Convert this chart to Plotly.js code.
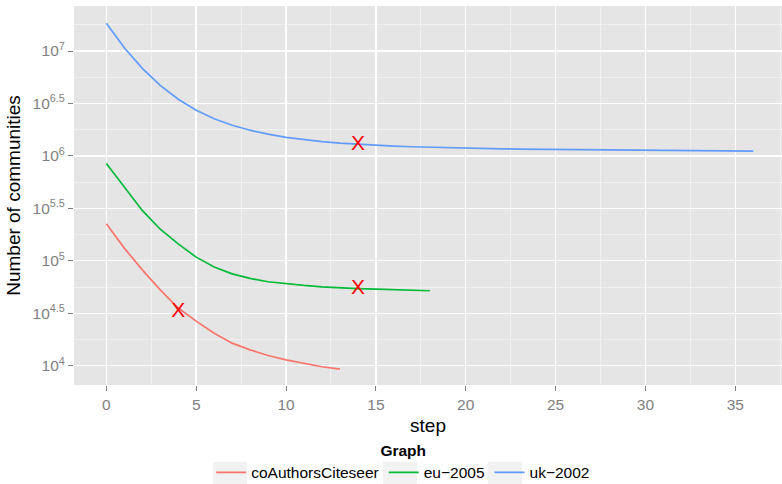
<!DOCTYPE html>
<html>
<head>
<meta charset="utf-8">
<script src="https://cdn.plot.ly/plotly-3.0.1.min.js"></script>
<style>html,body{margin:0;padding:0;background:#fff;}#chart{width:782px;height:484px;}</style>
</head>
<body>
<div id="chart"></div>
<script>
// ---- data ----
const seriesNames = ["coAuthorsCiteseer", "eu\u22122005", "uk\u22122002"];
const stepsCo = [0,1,2,3,4,5,6,7,8,9,10,11,12,13];
const valuesCo = [225400,132100,82000,52800,35500,26600,20400,16400,14160,12500,11350,10540,9770,9290];
const stepsEu = [0,1,2,3,4,5,6,7,8,9,10,11,12,13,14,15,16,17,18];
const valuesEu = [845000,501000,302000,200000,145000,108400,87100,75000,67900,63100,60300,58200,56500,55200,54300,53600,52800,52200,51800];
const stepsUk = [0,1,2,3,4,5,6,7,8,9,10,11,12,13,14,15,16,17,18,19,20,21,22,23,24,25,26,27,28,29,30,31,32,33,34,35,36];
const valuesUk = [18370000,10720000,6840000,4700000,3470000,2720000,2260000,1960000,1758000,1611000,1503000,1426000,1368000,1324000,1288000,1259000,1239000,1222000,1208000,1194000,1183000,1175000,1167000,1161000,1156000,1151000,1146000,1140000,1138000,1132000,1130000,1127000,1122000,1119000,1117000,1114000,1112000];
const markSteps = [4, 14, 14];
const markValues = [32700, 54300, 1268000];
const markLabel = "X";
const xTickVals = [0,5,10,15,20,25,30,35];
const yTickExps = [4, 4.5, 5, 5.5, 6, 6.5, 7];
const yTickLabels = ["10<sup>4</sup>","10<sup>4.5</sup>","10<sup>5</sup>","10<sup>5.5</sup>","10<sup>6</sup>","10<sup>6.5</sup>","10<sup>7</sup>"];
const xTitle = "step";
const yTitle = "Number of communities";
const legendTitle = "Graph";

// ---- style ----
const colors = ["#F8766D", "#00BA38", "#619CFF"];
const FONT = "Liberation Sans, Arial, Helvetica, sans-serif";
const W = 782, H = 484, ML = 74, MR = 0, MT = 6, MB = 99;
const PW = W - ML - MR, PH = H - MT - MB;

const traces = [
  {x: stepsCo, y: valuesCo, name: seriesNames[0]},
  {x: stepsEu, y: valuesEu, name: seriesNames[1]},
  {x: stepsUk, y: valuesUk, name: seriesNames[2]}
].map((t, i) => Object.assign(t, {
  type: "scatter", mode: "lines",
  line: {color: colors[i], width: 1.7}
}));

traces.push({
  type: "scatter", mode: "text",
  x: markSteps, y: markValues,
  text: markSteps.map(() => markLabel),
  textposition: "middle center",
  textfont: {family: FONT, size: 21, color: "#FF0000"},
  showlegend: false, hoverinfo: "skip"
});

const yMinorVals = [];
for (let e = 3.75; e <= 7.5; e += 0.5) yMinorVals.push(Math.pow(10, e));

// grey legend key boxes (pixel spans converted to paper coords)
const keyBoxesPx = [[213, 247], [383, 417], [488, 522]];
const shapes = keyBoxesPx.map(([a, b]) => ({
  type: "rect", xref: "paper", yref: "paper", layer: "below",
  x0: (a - ML) / PW, x1: (b - ML) / PW,
  y0: (H - MB - 490) / PH, y1: (H - MB - 462) / PH,
  fillcolor: "#F2F2F2", line: {width: 0}
}));

const layout = {
  width: W, height: H,
  margin: {l: ML, r: MR, t: MT, b: MB},
  paper_bgcolor: "#FFFFFF",
  plot_bgcolor: "#E5E5E5",
  font: {family: FONT, color: "#000000"},
  showlegend: true,
  shapes: shapes,
  xaxis: {
    automargin: false,
    range: [-1.8, 37.6],
    tickmode: "array", tickvals: xTickVals,
    ticktext: xTickVals.map(String),
    ticks: "outside", ticklen: 5, tickwidth: 1, tickcolor: "#7F7F7F",
    tickfont: {family: FONT, size: 15.5, color: "#7F7F7F"},
    showgrid: true, gridcolor: "#FFFFFF", gridwidth: 1.4,
    minor: {dtick: 2.5, tick0: 2.5, showgrid: true, gridcolor: "#F2F2F2", gridwidth: 0.8, ticks: ""},
    zeroline: false, showline: false,
    title: {text: xTitle, font: {family: FONT, size: 19, color: "#000000"}, standoff: 8}
  },
  yaxis: {
    automargin: false,
    type: "log",
    range: [3.816, 7.429],
    tickmode: "array",
    tickvals: yTickExps.map(e => Math.pow(10, e)),
    ticktext: yTickLabels,
    ticks: "outside", ticklen: 5, tickwidth: 1, tickcolor: "#7F7F7F",
    tickfont: {family: FONT, size: 15.5, color: "#7F7F7F"},
    showgrid: true, gridcolor: "#FFFFFF", gridwidth: 1.4,
    minor: {tickmode: "array", tickvals: yMinorVals, showgrid: true, gridcolor: "#F2F2F2", gridwidth: 0.8, ticks: ""},
    zeroline: false, showline: false,
    title: {text: yTitle, font: {family: FONT, size: 19, color: "#000000"}, standoff: 6}
  },
  legend: {
    orientation: "h",
    x: 0.465, xanchor: "center",
    yref: "container", y: 0.1, yanchor: "top",
    bgcolor: "rgba(0,0,0,0)",
    font: {family: FONT, size: 15.5, color: "#000000"},
    title: {text: "<b>" + legendTitle + "</b>", side: "top center", font: {family: FONT, size: 15.5, color: "#000000"}},
    traceorder: "normal"
  }
};

Plotly.newPlot("chart", traces, layout, {staticPlot: true, displayModeBar: false});
</script>
</body>
</html>
